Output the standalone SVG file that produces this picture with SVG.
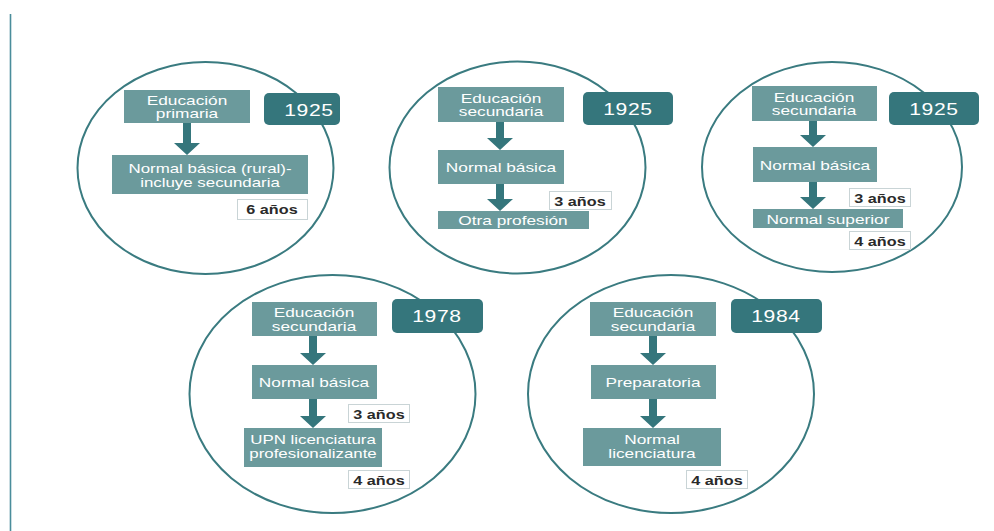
<svg xmlns="http://www.w3.org/2000/svg" width="994" height="531" viewBox="0 0 994 531">
<style>
.ell{fill:none;stroke:#3a7b80;stroke-width:2}
.box{fill:#6b9a9c}
.yr{fill:#35767c}
.dur{fill:#fff;stroke:#c9d4d6;stroke-width:1}
.arr{fill:#35767c}
.t{font-family:"Liberation Sans",Arial,sans-serif;font-size:13.5px;fill:#fff;text-anchor:middle}
.ty{font-family:"Liberation Sans",Arial,sans-serif;font-size:16.5px;fill:#fff;text-anchor:middle;letter-spacing:0.5px}
.td{font-family:"Liberation Sans",Arial,sans-serif;font-size:13.5px;font-weight:bold;fill:#2a2a2a;text-anchor:middle}
</style>
<rect width="994" height="531" fill="#fff"/>
<line x1="10.5" y1="14" x2="10.5" y2="531" stroke="#4a8d9b" stroke-width="1.6"/>

<g id="c1">
<ellipse class="ell" cx="205.5" cy="168" rx="128" ry="106"/>
<rect class="box" x="124" y="90" width="126" height="33"/>
<text class="t" transform="translate(187 104.5) scale(1.28 1)">Educación</text>
<text class="t" transform="translate(187 118) scale(1.28 1)">primaria</text>
<rect class="yr" x="264" y="93" width="76" height="32" rx="5"/>
<text class="ty" transform="translate(309 115.5) scale(1.28 1)">1925</text>
<rect class="box" x="112" y="155" width="196" height="39"/>
<text class="t" transform="translate(210 172.5) scale(1.25 1)">Normal básica (rural)-</text>
<text class="t" transform="translate(210 186.5) scale(1.25 1)">incluye secundaria</text>
<rect class="dur" x="237.5" y="199.5" width="70" height="20"/>
<text class="td" transform="translate(272 214) scale(1.2 1)">6 años</text>
</g>

<g id="c2">
<ellipse class="ell" cx="517.5" cy="167.5" rx="128" ry="106"/>
<rect class="box" x="438" y="87" width="126" height="35"/>
<text class="t" transform="translate(501 102.5) scale(1.28 1)">Educación</text>
<text class="t" transform="translate(501 116) scale(1.28 1)">secundaria</text>
<rect class="yr" x="583" y="92" width="90" height="33" rx="5"/>
<text class="ty" transform="translate(628 114.5) scale(1.28 1)">1925</text>
<rect class="box" x="438" y="150" width="126" height="34"/>
<text class="t" transform="translate(501 172) scale(1.28 1)">Normal básica</text>
<rect class="dur" x="549.5" y="191.5" width="62" height="18"/>
<text class="td" transform="translate(580 205.5) scale(1.2 1)">3 años</text>
<rect class="box" x="438" y="211" width="151" height="18"/>
<text class="t" transform="translate(513 225) scale(1.28 1)">Otra profesión</text>
</g>

<g id="c3">
<ellipse class="ell" cx="832" cy="167" rx="130" ry="105"/>
<rect class="box" x="752" y="86" width="125" height="35"/>
<text class="t" transform="translate(814 101.5) scale(1.28 1)">Educación</text>
<text class="t" transform="translate(814 115) scale(1.28 1)">secundaria</text>
<rect class="yr" x="889" y="92" width="90" height="33" rx="5"/>
<text class="ty" transform="translate(934 114.5) scale(1.28 1)">1925</text>
<rect class="box" x="753" y="147" width="124" height="35"/>
<text class="t" transform="translate(815 169.5) scale(1.28 1)">Normal básica</text>
<rect class="dur" x="849.5" y="188.5" width="61" height="18"/>
<text class="td" transform="translate(880 202.5) scale(1.2 1)">3 años</text>
<rect class="box" x="753" y="209" width="150" height="19"/>
<text class="t" transform="translate(828 223.5) scale(1.28 1)">Normal superior</text>
<rect class="dur" x="849.5" y="231.5" width="61" height="18"/>
<text class="td" transform="translate(880 245.5) scale(1.2 1)">4 años</text>
</g>

<g id="c4">
<ellipse class="ell" cx="332.5" cy="394" rx="143" ry="119"/>
<rect class="box" x="252" y="302" width="125" height="34"/>
<text class="t" transform="translate(314 317) scale(1.28 1)">Educación</text>
<text class="t" transform="translate(314 330.5) scale(1.28 1)">secundaria</text>
<rect class="yr" x="392" y="299" width="91" height="34" rx="5"/>
<text class="ty" transform="translate(437 322) scale(1.28 1)">1978</text>
<rect class="box" x="252" y="365" width="125" height="34"/>
<text class="t" transform="translate(314 387) scale(1.28 1)">Normal básica</text>
<rect class="dur" x="348.5" y="404.5" width="61" height="18"/>
<text class="td" transform="translate(379 418.5) scale(1.2 1)">3 años</text>
<rect class="box" x="244" y="428" width="138" height="39"/>
<text class="t" transform="translate(313 443.5) scale(1.25 1)">UPN licenciatura</text>
<text class="t" transform="translate(313 458) scale(1.25 1)">profesionalizante</text>
<rect class="dur" x="348.5" y="470.5" width="61" height="18"/>
<text class="td" transform="translate(379 484.5) scale(1.2 1)">4 años</text>
</g>

<g id="c5">
<ellipse class="ell" cx="671" cy="394" rx="143" ry="119"/>
<rect class="box" x="590" y="302" width="126" height="34"/>
<text class="t" transform="translate(653 317) scale(1.28 1)">Educación</text>
<text class="t" transform="translate(653 330.5) scale(1.28 1)">secundaria</text>
<rect class="yr" x="731" y="299" width="91" height="34" rx="5"/>
<text class="ty" transform="translate(776 322) scale(1.28 1)">1984</text>
<rect class="box" x="591" y="365" width="125" height="34"/>
<text class="t" transform="translate(653 387) scale(1.28 1)">Preparatoria</text>
<rect class="box" x="583" y="428" width="138" height="38"/>
<text class="t" transform="translate(652 443.5) scale(1.28 1)">Normal</text>
<text class="t" transform="translate(652 458) scale(1.28 1)">licenciatura</text>
<rect class="dur" x="686.5" y="470.5" width="61" height="18"/>
<text class="td" transform="translate(717 484.5) scale(1.2 1)">4 años</text>
</g>

<g id="connectors">
<path class="arr" d="M183,123 h8 v20 h9 l-13,12 l-13,-12 h9 z"/>
<path class="arr" d="M496,122 h8 v16 h9 l-13,12 l-13,-12 h9 z"/>
<path class="arr" d="M496,184 h8 v15 h9 l-13,12 l-13,-12 h9 z"/>
<path class="arr" d="M809,121 h8 v14 h9 l-13,12 l-13,-12 h9 z"/>
<path class="arr" d="M809,182 h8 v15 h9 l-13,12 l-13,-12 h9 z"/>
<path class="arr" d="M309,336 h8 v17 h9 l-13,12 l-13,-12 h9 z"/>
<path class="arr" d="M309,399 h8 v17 h9 l-13,12 l-13,-12 h9 z"/>
<path class="arr" d="M649,336 h8 v17 h9 l-13,12 l-13,-12 h9 z"/>
<path class="arr" d="M649,399 h8 v17 h9 l-13,12 l-13,-12 h9 z"/>
</g>
</svg>
